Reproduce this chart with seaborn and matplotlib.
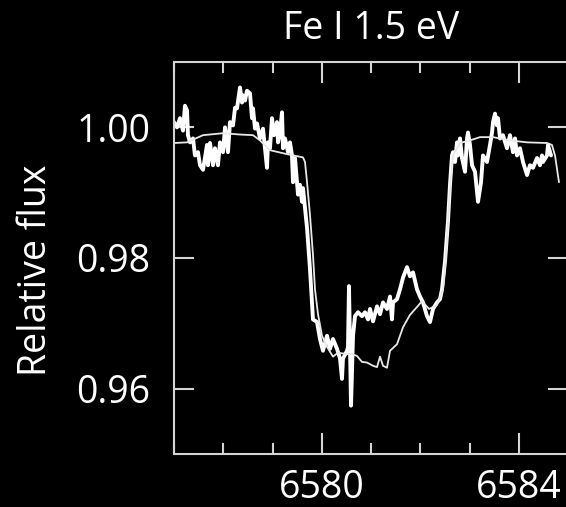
import numpy as np
import pandas as pd
import matplotlib
matplotlib.use("Agg")
import matplotlib.pyplot as plt
from matplotlib.ticker import MultipleLocator, FixedLocator
import seaborn as sns

# ---- data ----
obs_wave = [6577.000, 6577.061, 6577.122, 6577.183, 6577.223, 6577.264, 6577.284, 6577.325, 6577.386, 6577.426,
            6577.487, 6577.528, 6577.589, 6577.670, 6577.690, 6577.731, 6577.792, 6577.832, 6577.893, 6577.934,
            6577.995, 6578.036, 6578.096, 6578.137, 6578.198, 6578.239, 6578.279, 6578.340, 6578.381, 6578.401,
            6578.442, 6578.482, 6578.543, 6578.584, 6578.604, 6578.645, 6578.685, 6578.746, 6578.807, 6578.888,
            6578.909, 6578.949, 6578.990, 6579.030, 6579.091, 6579.112, 6579.152, 6579.193, 6579.213, 6579.254,
            6579.315, 6579.355, 6579.396, 6579.416, 6579.457, 6579.497, 6579.518, 6579.558, 6579.599, 6579.619,
            6579.701, 6579.721, 6579.761, 6579.822, 6579.904, 6579.964, 6580.025, 6580.107, 6580.168, 6580.228,
            6580.310, 6580.371, 6580.411, 6580.431, 6580.513, 6580.533, 6580.553, 6580.594, 6580.635, 6580.675,
            6580.736, 6580.817, 6580.878, 6580.939, 6580.980, 6581.041, 6581.122, 6581.183, 6581.244, 6581.325,
            6581.386, 6581.426, 6581.447, 6581.528, 6581.589, 6581.650, 6581.731, 6581.792, 6581.853, 6581.934,
            6581.995, 6582.056, 6582.137, 6582.198, 6582.259, 6582.340, 6582.401, 6582.442, 6582.503, 6582.563,
            6582.604, 6582.645, 6582.665, 6582.706, 6582.746, 6582.766, 6582.807, 6582.848, 6582.909, 6582.949,
            6582.970, 6583.010, 6583.051, 6583.112, 6583.173, 6583.234, 6583.274, 6583.355, 6583.416, 6583.457,
            6583.477, 6583.518, 6583.558, 6583.579, 6583.619, 6583.680, 6583.761, 6583.822, 6583.883, 6583.924,
            6583.964, 6584.025, 6584.086, 6584.168, 6584.228, 6584.289, 6584.371, 6584.431, 6584.472, 6584.492,
            6584.574, 6584.594, 6584.655]
obs_flux = [1.0008, 1.0000, 1.0014, 0.9995, 1.0033, 1.0026, 0.9988, 0.9977, 0.9983, 0.9957,
            0.9962, 0.9942, 0.9935, 0.9973, 0.9942, 0.9976, 0.9942, 0.9968, 0.9942, 0.9977,
            0.9962, 1.0000, 0.9962, 1.0008, 1.0003, 1.0030, 1.0029, 1.0061, 1.0038, 1.0049,
            1.0041, 1.0056, 1.0052, 1.0014, 1.0029, 0.9998, 1.0006, 0.9983, 0.9998, 0.9938,
            0.9977, 0.9968, 1.0014, 0.9988, 1.0008, 0.9977, 0.9992, 1.0023, 0.9968, 0.9983,
            0.9962, 0.9977, 0.9957, 0.9916, 0.9953, 0.9916, 0.9897, 0.9912, 0.9886, 0.9907,
            0.9846, 0.9825, 0.9783, 0.9706, 0.9702, 0.9676, 0.9658, 0.9681, 0.9661, 0.9676,
            0.9661, 0.9646, 0.9615, 0.9646, 0.9658, 0.9664, 0.9757, 0.9574, 0.9681, 0.9711,
            0.9717, 0.9711, 0.9717, 0.9706, 0.9722, 0.9703, 0.9726, 0.9714, 0.9732, 0.9722,
            0.9741, 0.9706, 0.9732, 0.9737, 0.9752, 0.9770, 0.9786, 0.9772, 0.9778, 0.9752,
            0.9741, 0.9732, 0.9711, 0.9702, 0.9722, 0.9732, 0.9737, 0.9752, 0.9795, 0.9856,
            0.9912, 0.9957, 0.9962, 0.9947, 0.9977, 0.9957, 0.9983, 0.9953, 0.9932, 0.9983,
            0.9992, 0.9973, 0.9942, 0.9932, 0.9886, 0.9916, 0.9957, 0.9947, 0.9973, 0.9992,
            1.0008, 1.0021, 1.0003, 1.0014, 0.9983, 0.9988, 0.9968, 0.9988, 0.9962, 0.9983,
            0.9957, 0.9968, 0.9947, 0.9927, 0.9942, 0.9938, 0.9953, 0.9942, 0.9957, 0.9947,
            0.9957, 0.9973, 0.9957]

model_wave = [6577.000, 6577.264, 6577.589, 6577.995, 6578.340, 6578.604, 6578.746, 6578.949, 6579.294, 6579.619,
              6579.660, 6579.701, 6579.761, 6579.822, 6579.863, 6579.924, 6580.005, 6580.107, 6580.228, 6580.330,
              6580.513, 6580.614, 6580.716, 6580.817, 6580.919, 6581.041, 6581.122, 6581.183, 6581.244, 6581.325,
              6581.386, 6581.528, 6581.650, 6581.792, 6581.934, 6582.036, 6582.178, 6582.340, 6582.462, 6582.503,
              6582.543, 6582.604, 6582.665, 6582.807, 6583.010, 6583.213, 6583.477, 6583.822, 6584.168, 6584.574,
              6584.675, 6584.736, 6584.817]
model_flux = [0.9976, 0.9977, 0.9988, 0.9991, 0.9989, 0.9988, 0.9980, 0.9965, 0.9959, 0.9954,
              0.9947, 0.9916, 0.9866, 0.9805, 0.9752, 0.9714, 0.9681, 0.9664, 0.9649, 0.9655,
              0.9653, 0.9653, 0.9650, 0.9641, 0.9640, 0.9635, 0.9633, 0.9649, 0.9635, 0.9632,
              0.9658, 0.9668, 0.9694, 0.9713, 0.9725, 0.9734, 0.9722, 0.9728, 0.9752, 0.9786,
              0.9828, 0.9907, 0.9957, 0.9976, 0.9980, 0.9985, 0.9985, 0.9980, 0.9977, 0.9976,
              0.9973, 0.9957, 0.9916]

title_text = "Fe I 1.5 eV"
ylabel_text = "Relative flux"
ytick_vals = [0.96, 0.98, 1.00]
ytick_labels = ["0.96", "0.98", "1.00"]

obs = pd.DataFrame({"wave": obs_wave, "flux": obs_flux})
model = pd.DataFrame({"wave": model_wave, "flux": model_flux})

sns.set_theme(style="ticks")
plt.rcParams["font.family"] = ["Open Sans", "DejaVu Sans"]

W, H = 566, 507
fig = plt.figure(figsize=(W / 100, H / 100), dpi=100, facecolor="black")
ax = fig.add_axes([174 / W, 53 / H, 394 / W, 392 / H], facecolor="black")

sns.lineplot(data=obs, x="wave", y="flux", ax=ax, color="white", lw=2.8,
             estimator=None, sort=False)
sns.lineplot(data=model, x="wave", y="flux", ax=ax, color="#e8e8e8", lw=1.3,
             estimator=None, sort=False)

ax.set_xlim(6577, 6585)
ax.set_ylim(0.95, 1.01)

spine_col = "#d4d4d4"
for s in ax.spines.values():
    s.set_color(spine_col)
    s.set_linewidth(1.5)
    s.set_visible(True)

ax.xaxis.set_major_locator(MultipleLocator(4))
ax.xaxis.set_minor_locator(MultipleLocator(1))
ax.yaxis.set_major_locator(FixedLocator(ytick_vals))
ax.set_yticklabels(ytick_labels)

ax.tick_params(axis="x", which="major", direction="in", length=15, width=1.5,
               color=spine_col, top=True, bottom=True, labelsize=27,
               labelcolor="white", pad=11)
ax.tick_params(axis="x", which="minor", direction="in", length=8, width=1.5,
               color=spine_col, top=True, bottom=True)
ax.tick_params(axis="y", which="major", direction="in", length=14.5, width=1.5,
               color=spine_col, left=True, right=True, labelsize=27,
               labelcolor="white", pad=17)

ax.set_xlabel("")
ax.set_ylabel(ylabel_text, fontsize=27, color="white", va="center")
ax.yaxis.set_label_coords(-(174 - 36) / 394, (454 - 270) / 392)
ax.set_title(title_text, fontsize=27, color="white", pad=16.5)

fig.savefig("out.png", dpi=100, facecolor="black")
